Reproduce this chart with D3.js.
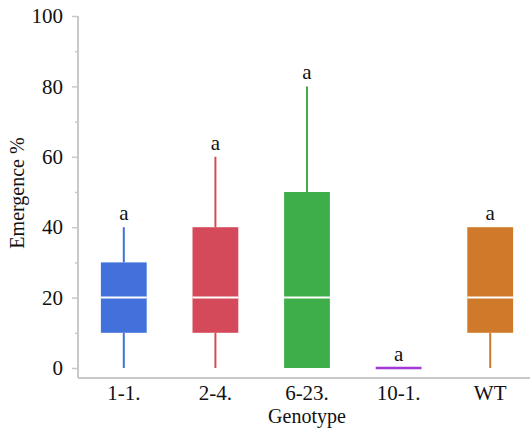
<!DOCTYPE html>
<html>
<head>
<meta charset="utf-8">
<script src="https://cdn.jsdelivr.net/npm/d3@7"></script>
<style>
  html, body { margin: 0; padding: 0; background: #fff; }
</style>
</head>
<body>
<svg id="chart" width="530" height="428"></svg>
<script>
// Emergence (%) box summaries per genotype
const genotypes = ["1-1.", "2-4.", "6-23.", "10-1.", "WT"];
const mins    = [0, 0, 0, 0, 0];
const q1s     = [10, 10, 0, 0, 10];
const medians = [20, 20, 20, 0, 20];
const q3s     = [30, 40, 50, 0, 40];
const maxs    = [40, 60, 80, 0, 40];
const letters = ["a", "a", "a", "a", "a"];
const colors  = ["#4271dc", "#d54a5a", "#3dae4a", "#a03ad6", "#cf7a2b"];
const yTicks  = [0, 20, 40, 60, 80, 100];
const yMinorTicks = [10, 30, 50, 70, 90];

(function () {
  const serif = "'Liberation Serif', 'Times New Roman', Tinos, 'DejaVu Serif', serif";
  const rows = genotypes.map((g, i) => ({
    g, min: mins[i], q1: q1s[i], med: medians[i], q3: q3s[i], max: maxs[i],
    letter: letters[i], color: colors[i]
  }));

  const svg = d3.select("#chart");
  const axisColor = "#c8c8c8";
  const plotLeft = 78, plotRight = 536, plotTop = 16, zeroY = 368, axisY = 378;

  const x = d3.scaleBand().domain(genotypes).range([plotLeft, plotRight])
    .paddingInner(0.5).paddingOuter(0.25);
  const y = d3.scaleLinear().domain([0, 100]).range([zeroY, plotTop]);

  const styleText = (sel, size) => sel
    .attr("font-family", serif).attr("font-size", size).attr("fill", "#111");

  // y axis: major ticks with labels, minor ticks without
  const yAxis = svg.append("g").attr("transform", `translate(${plotLeft},0)`)
    .call(d3.axisLeft(y).tickValues(yTicks).tickSize(6).tickPadding(9).tickFormat(d3.format("d")));
  yAxis.attr("font-family", serif).attr("font-size", 21);
  yAxis.select(".domain").remove();
  yAxis.selectAll(".tick line").attr("stroke", axisColor).attr("stroke-width", 1.5);
  yAxis.selectAll(".tick text").call(styleText, 21);

  const yMinor = svg.append("g").attr("transform", `translate(${plotLeft},0)`)
    .call(d3.axisLeft(y).tickValues(yMinorTicks).tickSize(3).tickFormat(""));
  yMinor.select(".domain").remove();
  yMinor.selectAll(".tick line").attr("stroke", axisColor).attr("stroke-width", 1.5);

  // axis lines
  svg.append("line").attr("x1", plotLeft).attr("x2", plotLeft).attr("y1", plotTop).attr("y2", axisY)
    .attr("stroke", axisColor).attr("stroke-width", 2);
  svg.append("line").attr("x1", plotLeft).attr("x2", 530).attr("y1", axisY).attr("y2", axisY)
    .attr("stroke", axisColor).attr("stroke-width", 2);

  // x axis labels
  const xAxis = svg.append("g").attr("transform", `translate(0,${axisY})`)
    .call(d3.axisBottom(x).tickSize(0).tickPadding(7));
  xAxis.attr("font-family", serif).attr("font-size", 21);
  xAxis.select(".domain").remove();
  xAxis.selectAll(".tick text").call(styleText, 21);

  // axis titles
  svg.append("text").attr("x", (plotLeft + plotRight) / 2).attr("y", 423)
    .attr("text-anchor", "middle").call(styleText, 20).text("Genotype");
  svg.append("text").attr("transform", `translate(24,193) rotate(-90)`)
    .attr("text-anchor", "middle").call(styleText, 20).text("Emergence %");

  // boxes
  const g = svg.append("g");
  const bw = x.bandwidth();
  rows.forEach(d => {
    const cx = x(d.g) + bw / 2;
    const grp = g.append("g");
    // whiskers
    if (d.q1 > d.min) {
      grp.append("line").attr("x1", cx).attr("x2", cx).attr("y1", y(d.min)).attr("y2", y(d.q1))
        .attr("stroke", d.color).attr("stroke-width", 2);
    }
    if (d.max > d.q3) {
      grp.append("line").attr("x1", cx).attr("x2", cx).attr("y1", y(d.q3)).attr("y2", y(d.max))
        .attr("stroke", d.color).attr("stroke-width", 2);
    }
    if (d.q3 > d.q1) {
      grp.append("rect").attr("x", x(d.g)).attr("width", bw)
        .attr("y", y(d.q3)).attr("height", y(d.q1) - y(d.q3))
        .attr("fill", d.color);
      grp.append("line").attr("x1", x(d.g)).attr("x2", x(d.g) + bw)
        .attr("y1", y(d.med)).attr("y2", y(d.med))
        .attr("stroke", "#fff").attr("stroke-width", 2);
    } else {
      // collapsed box: all quartiles equal
      grp.append("line").attr("x1", x(d.g)).attr("x2", x(d.g) + bw)
        .attr("y1", y(d.q1)).attr("y2", y(d.q1))
        .attr("stroke", d.color).attr("stroke-width", 2.5);
    }
    // significance letter
    grp.append("text").attr("x", cx).attr("y", y(d.max) - 7)
      .attr("text-anchor", "middle").call(styleText, 21).text(d.letter);
  });
})();
</script>
</body>
</html>
